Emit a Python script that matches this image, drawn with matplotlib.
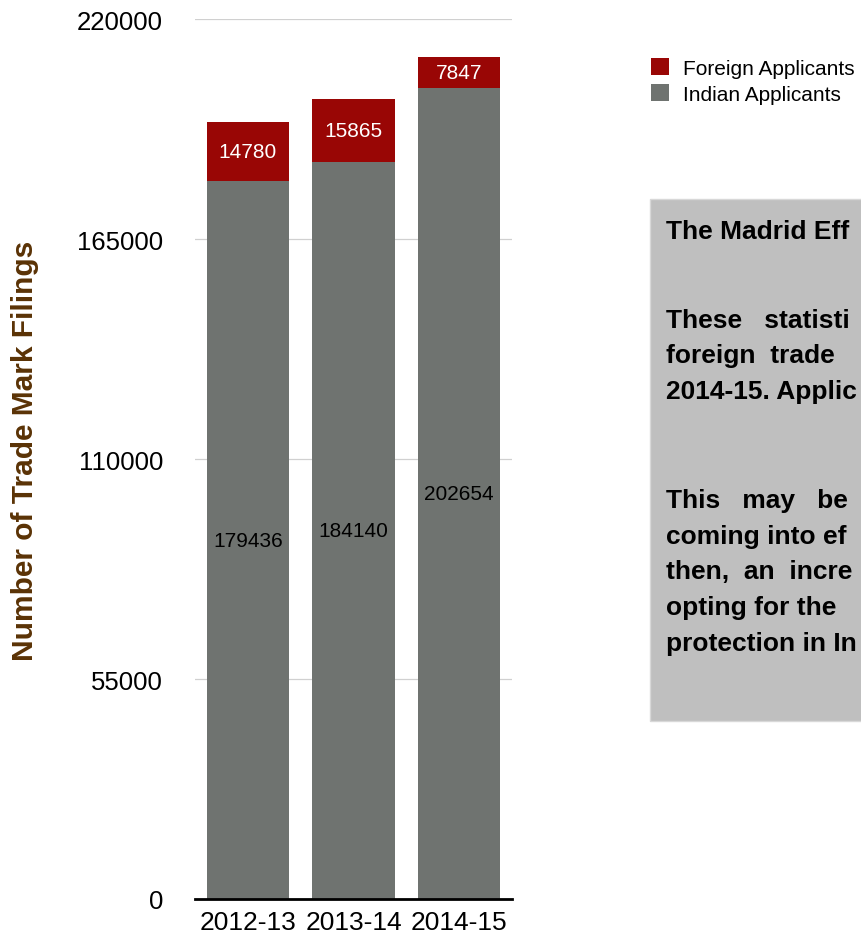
import matplotlib
matplotlib.use("Agg")
import matplotlib.pyplot as plt
import numpy as np
from matplotlib.patches import Patch, Rectangle

years = ["2012-13", "2013-14", "2014-15"]
indian = [179436, 184140, 202654]
foreign = [14780, 15865, 7847]
yticks = [0, 55000, 110000, 165000, 220000]

# the note box runs off the right edge in the reference, so only the
# visible part of each line is kept
title_line = "The Madrid Eff"
para1 = ["These   statisti", "foreign  trade", "2014-15. Applic"]
para2 = ["This   may   be", "coming into ef", "then,  an  incre",
         "opting for the", "protection in In"]

GRAY = "#6f7370"
RED = "#990605"

plt.rcParams["font.family"] = ["Liberation Sans", "DejaVu Sans"]

W, H = 862, 937
fig = plt.figure(figsize=(W / 100, H / 100), dpi=100)
ax = fig.add_axes([195 / W, (H - 900) / H, (512 - 195) / W, 880 / H])

x = np.arange(len(years))
b1 = ax.bar(x, indian, width=0.78, color=GRAY, zorder=2)
b2 = ax.bar(x, foreign, width=0.78, bottom=indian, color=RED, zorder=2)
ax.bar_label(b1, labels=[str(v) for v in indian], label_type="center",
             color="black", fontsize=15)
ax.bar_label(b2, labels=[str(v) for v in foreign], label_type="center",
             color="white", fontsize=15)

ax.set_xlim(-0.5, 2.5)
ax.set_ylim(0, 220000)
ax.set_yticks(yticks)
ax.set_yticklabels([str(v) for v in yticks], fontsize=18.5)
ax.set_xticks(x)
ax.set_xticklabels(years, fontsize=19)
ax.tick_params(axis="y", length=0, pad=23)
ax.tick_params(axis="x", length=0, pad=8)
ax.yaxis.grid(True, color="#d0d0d0", linewidth=0.9, zorder=0)
ax.set_axisbelow(True)
for s in ["top", "right", "left"]:
    ax.spines[s].set_visible(False)
ax.spines["bottom"].set_linewidth(2)
ax.spines["bottom"].set_color("black")
ax.spines["bottom"].set_zorder(3)

fig.text(25 / W, (H - 451) / H, "Number of Trade Mark Filings", rotation=90,
         ha="center", va="center", fontsize=21.5, fontweight="bold",
         color="#5a3205")

# legend
handles = [Patch(facecolor=RED), Patch(facecolor=GRAY)]
fig.legend(handles, ["Foreign Applicants", "Indian Applicants"],
           loc="upper left", bbox_to_anchor=(651 / W, (H - 59) / H),
           frameon=False, fontsize=15, handlelength=0.87, handleheight=0.87,
           handletextpad=0.67, labelspacing=0.3, borderpad=0, borderaxespad=0)

# note box
fig.patches.append(Rectangle((650 / W, (H - 722) / H), 300 / W, 522 / H,
                             transform=fig.transFigure, facecolor="#bfbfbf",
                             edgecolor="#d8d8d8", linewidth=1, zorder=0))
tx = 666 / W
fs = 19
fig.text(tx, (H - 232) / H, title_line, ha="left", va="center",
         fontsize=fs, fontweight="bold")
for i, line in enumerate(para1):
    fig.text(tx, (H - 321 - i * 35.5) / H, line, ha="left", va="center",
             fontsize=fs, fontweight="bold")
for i, line in enumerate(para2):
    fig.text(tx, (H - 501 - i * 35.7) / H, line, ha="left", va="center",
             fontsize=fs, fontweight="bold")

fig.savefig("out.png", dpi=100)
